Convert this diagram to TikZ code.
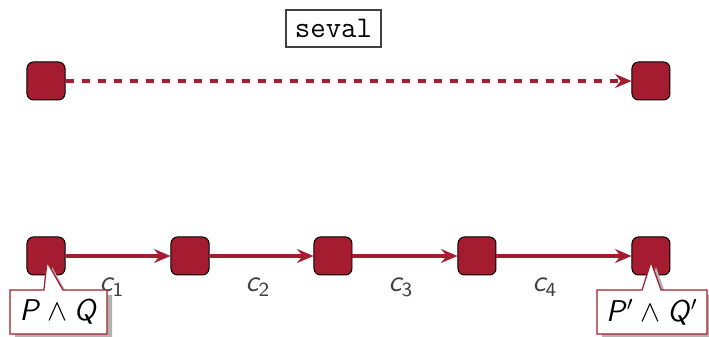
\documentclass[tikz,border=0pt]{standalone}
\usetikzlibrary{shapes.callouts,shadows,arrows.meta}
\definecolor{crim}{HTML}{A51C30}
\newcommand\svar[1]{\textsf{\textit{#1}}}
\begin{document}
\begin{tikzpicture}[x=0.4pt,y=-0.4pt,
  state/.style={draw=black, fill=crim, rounded corners=2.6pt, minimum size=15.2pt, inner sep=0pt, line width=0.4pt},
  trans/.style={draw=crim, line width=1.3pt, -{Stealth[length=6.5pt,width=5.5pt]}},
  strans/.style={trans, dash pattern=on 3.2pt off 3.2pt},
  lbl/.style={font=\fontsize{12}{14}\selectfont\sffamily\itshape, text=black!75, inner sep=0pt},
  cond/.style={rectangle callout, draw=crim, fill=white, line width=0.5pt,
    callout pointer width=7.6pt, minimum height=17.6pt, inner sep=2pt,
    font=\fontsize{12}{14}\selectfont,
    drop shadow={shadow xshift=2pt, shadow yshift=-2pt, fill=black!30, opacity=1}},
  title/.style={draw=black!75, line width=0.5pt, fill=white, minimum width=38pt, minimum height=14.8pt, inner sep=0pt, font=\fontsize{12}{14}\selectfont\ttfamily}
]
\useasboundingbox (0,0) rectangle (709,337);
\node[title] (ttl) at (333.5,28.5) {seval};
\node[state] (t1) at (46,81) {};
\node[state] (t2) at (651,81) {};
\draw[strans] (t1) -- (t2);
\node[state] (b1) at (46,256) {};
\node[state] (b2) at (190,256) {};
\node[state] (b3) at (333,256) {};
\node[state] (b4) at (477,256) {};
\node[state] (b5) at (651,256) {};
\draw[trans] (b1) -- (b2);
\draw[trans] (b2) -- (b3);
\draw[trans] (b3) -- (b4);
\draw[trans] (b4) -- (b5);
\node[lbl] (l1) at (112,287) {c$_{\mathsf{1}}$};
\node[lbl] (l2) at (258,287) {c$_{\mathsf{2}}$};
\node[lbl] (l3) at (401,287) {c$_{\mathsf{3}}$};
\node[lbl] (l4) at (545,287) {c$_{\mathsf{4}}$};
\coordinate (p1) at (47,262);
\coordinate (p2) at (651,262);
\node[cond, minimum width=38.8pt, callout absolute pointer={(p1)}] (c1) at (58.5,312) {\svar{P}${}\wedge{}$\svar{Q}};
\node[cond, minimum width=44pt, callout absolute pointer={(p2)}] (c2) at (652,312) {\svar{P}$'$${}\wedge{}$\svar{Q}$'$};
\end{tikzpicture}
\end{document}
